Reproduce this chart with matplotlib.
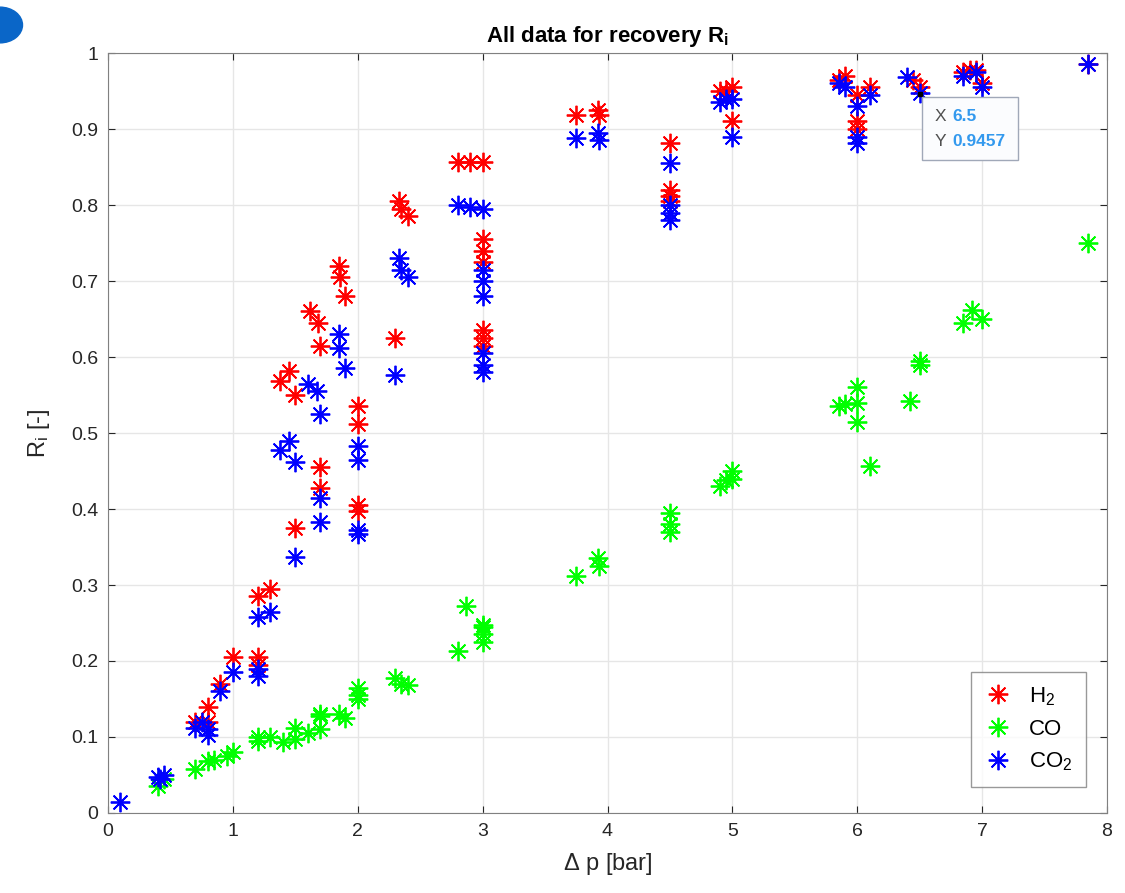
import matplotlib.pyplot as plt
from matplotlib.patches import Circle, Rectangle

plt.rc('font', family='Liberation Sans')
plt.rc('mathtext', fontset='custom', rm='Liberation Sans', it='Liberation Sans', bf='Liberation Sans:bold')

# recovery data
h2_dp = [0.7, 0.8, 0.8, 0.9, 1.0, 1.2, 1.2, 1.2, 1.3, 1.38, 1.45, 1.5, 1.5, 1.62, 1.68, 1.7, 1.7, 1.7,
         1.85, 1.86, 1.9, 2.0, 2.0, 2.0, 2.0, 2.3, 2.33, 2.35, 2.4, 2.8, 2.9, 3.0, 3.0, 3.0, 3.0, 3.0, 3.0, 3.0,
         3.75, 3.92, 3.93, 4.5, 4.5, 4.5, 4.5, 4.9, 4.95, 5.0, 5.0, 5.85, 5.9, 6.0, 6.0, 6.0, 6.1,
         6.45, 6.5, 6.85, 6.9, 6.95, 7.0, 7.85]
h2_r = [0.12, 0.14, 0.12, 0.17, 0.205, 0.205, 0.195, 0.285, 0.295, 0.568, 0.582, 0.375, 0.55, 0.66, 0.645, 0.615, 0.455, 0.427,
        0.72, 0.705, 0.68, 0.535, 0.512, 0.405, 0.398, 0.625, 0.805, 0.795, 0.785, 0.857, 0.857, 0.857, 0.755, 0.74, 0.725, 0.635, 0.625, 0.615,
        0.918, 0.925, 0.918, 0.882, 0.82, 0.812, 0.805, 0.95, 0.95, 0.955, 0.91, 0.965, 0.97, 0.945, 0.91, 0.9, 0.955,
        0.965, 0.955, 0.975, 0.978, 0.978, 0.96, 0.985]

co_dp = [0.4, 0.45, 0.7, 0.8, 0.85, 0.95, 1.0, 1.2, 1.2, 1.3, 1.4, 1.5, 1.5, 1.6, 1.7, 1.7, 1.7, 1.85, 1.9,
         2.0, 2.0, 2.0, 2.3, 2.35, 2.4, 2.8, 2.87, 3.0, 3.0, 3.0, 3.0, 3.75, 3.92, 3.93, 4.5, 4.5, 4.5,
         4.9, 4.95, 5.0, 5.0, 5.85, 5.9, 6.0, 6.0, 6.0, 6.1, 6.42, 6.5, 6.5, 6.85, 6.92, 7.0, 7.85]
co_r = [0.035, 0.045, 0.058, 0.068, 0.07, 0.075, 0.08, 0.1, 0.095, 0.1, 0.093, 0.098, 0.112, 0.105, 0.11, 0.128, 0.13, 0.13, 0.125,
        0.165, 0.15, 0.155, 0.178, 0.17, 0.168, 0.213, 0.273, 0.245, 0.235, 0.225, 0.248, 0.312, 0.335, 0.325, 0.395, 0.38, 0.37,
        0.43, 0.438, 0.45, 0.44, 0.535, 0.538, 0.56, 0.54, 0.515, 0.457, 0.542, 0.595, 0.59, 0.645, 0.662, 0.65, 0.75]

co2_dp = [0.1, 0.4, 0.42, 0.45, 0.7, 0.75, 0.8, 0.8, 0.9, 1.0, 1.2, 1.2, 1.2, 1.3, 1.38, 1.45, 1.5, 1.5, 1.6, 1.67, 1.7, 1.7, 1.7,
          1.85, 1.85, 1.9, 2.0, 2.0, 2.0, 2.0, 2.3, 2.33, 2.35, 2.4, 2.8, 2.9, 3.0, 3.0, 3.0, 3.0, 3.0, 3.0, 3.0,
          3.75, 3.92, 3.93, 4.5, 4.5, 4.5, 4.5, 4.9, 4.95, 5.0, 5.0, 5.85, 5.9, 6.0, 6.0, 6.0, 6.1,
          6.4, 6.5, 6.85, 6.95, 7.0, 7.85]
co2_r = [0.015, 0.048, 0.045, 0.05, 0.112, 0.12, 0.11, 0.103, 0.16, 0.185, 0.19, 0.18, 0.258, 0.265, 0.477, 0.49, 0.462, 0.337, 0.565, 0.555, 0.525, 0.415, 0.383,
         0.63, 0.612, 0.585, 0.483, 0.465, 0.372, 0.367, 0.577, 0.73, 0.715, 0.705, 0.8, 0.797, 0.795, 0.715, 0.7, 0.68, 0.605, 0.59, 0.58,
         0.888, 0.895, 0.885, 0.855, 0.8, 0.79, 0.78, 0.935, 0.94, 0.94, 0.89, 0.96, 0.955, 0.93, 0.89, 0.882, 0.945,
         0.968, 0.948, 0.97, 0.975, 0.955, 0.985]

tip_x = 6.5
tip_y = 0.9457

fig = plt.figure(figsize=(11.25, 8.93), dpi=100)
ax = fig.add_axes([0.096, 0.0896, 0.888, 0.851])

star = (8, 2, 0)
ax.plot(h2_dp, h2_r, linestyle='', marker=star, ms=14, mew=1.3, color='#ff0000', label=r'H$_2$')
ax.plot(co_dp, co_r, linestyle='', marker=star, ms=14, mew=1.3, color='#00ff00', label='CO')
ax.plot(co2_dp, co2_r, linestyle='', marker=star, ms=14, mew=1.3, color='#0000ff', label=r'CO$_2$')

# data tip
ax.plot([tip_x], [tip_y], 's', ms=3, color='black')
fig.patches.append(Rectangle((0.8195, 0.821), 0.0855, 0.0705, transform=fig.transFigure, facecolor='#fbfcfe',
                             edgecolor='#a0a8b8', lw=1.0, zorder=5))
fig.text(0.8305, 0.869, 'X', fontsize=12.5, color='#505050', va='center', zorder=6)
fig.text(0.8465, 0.869, f'{tip_x:g}', fontsize=12.5, color='#3399ee', fontweight='bold', va='center', zorder=6)
fig.text(0.8305, 0.841, 'Y', fontsize=12.5, color='#505050', va='center', zorder=6)
fig.text(0.8465, 0.841, f'{tip_y:g}', fontsize=12.5, color='#3399ee', fontweight='bold', va='center', zorder=6)

ax.set_xlim(0, 8)
ax.set_ylim(0, 1)
ax.set_xticks(range(0, 9))
ax.set_yticks([i / 10 for i in range(11)])
ax.set_yticklabels(['0'] + [f'{i / 10:g}' for i in range(1, 10)] + ['1'])
ax.tick_params(direction='in', top=True, right=True, labelsize=14, colors='#262626', length=5, pad=7)
ax.grid(True, color='#e6e6e6', lw=1)
ax.set_axisbelow(True)
for s in ax.spines.values():
    s.set_color('#808080')

ax.set_xlabel(r'$\Delta$ p [bar]', fontsize=17, color='#262626', labelpad=8)
ax.set_ylabel(r'R$_\mathrm{i}$ [-]', fontsize=17, color='#262626', labelpad=14)
ax.set_title(r'All data for recovery R$_\mathbf{i}$', fontsize=16, fontweight='bold', pad=8)

leg = ax.legend(loc='lower right', fontsize=16, handlelength=1.2, borderpad=0.6, labelspacing=0.5,
                fancybox=False, bbox_to_anchor=(0.99, 0.02))
leg.get_frame().set_edgecolor('#808080')

fig.patches.append(Circle((0.0, 0.972), 0.02, transform=fig.transFigure, color='#0a66c8'))

plt.savefig('out.png', dpi=100)
